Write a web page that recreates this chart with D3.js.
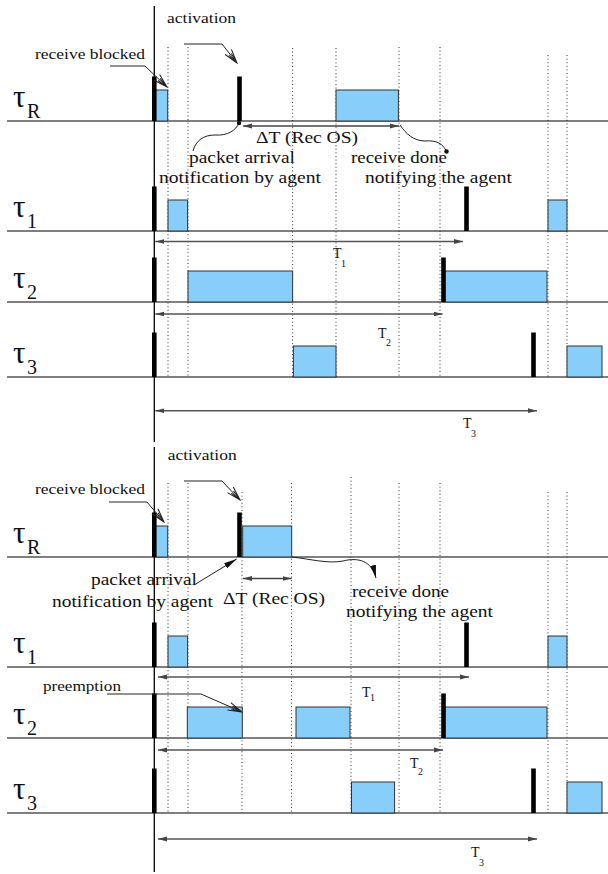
<!DOCTYPE html>
<html><head><meta charset="utf-8">
<script src="https://cdn.jsdelivr.net/npm/d3@7/dist/d3.min.js"></script>
<style>body{margin:0;background:#fff}svg{display:block}</style>
</head><body>
<script>
// ---------------- DATA (time units) ----------------
const tasks = ["R", "1", "2", "3"];
const periodNames = ["1", "2", "3"];

// Scenario A (top)
const topReleases = [[0, 8.52], [0, 31.22], [0, 28.92], [0, 37.92]];
const topJobs = [
  [[0, 1.34], [18.17, 24.41]],
  [[1.37, 3.33], [39.37, 41.27]],
  [[3.37, 13.83], [28.92, 39.27]],
  [[13.91, 18.17], [41.27, 44.77]]
];
const topGrid = [1.37, 3.37, 13.83, 18.17, 24.47, 28.57, 39.37, 41.27];
const topPeriods = [[0, 30.87], [0, 28.83], [0, 38.27]];
const topDelta = [8.87, 24.47];

// Scenario B (bottom, with preemption)
const botReleases = [[0, 8.52], [0, 31.22], [0, 28.92], [0, 37.92]];
const botJobs = [
  [[0, 1.34], [8.84, 13.74]],
  [[1.37, 3.33], [39.37, 41.27]],
  [[3.3, 8.8], [14.17, 19.57], [28.92, 39.27]],
  [[19.72, 24.03], [41.27, 44.77]]
];
const botGrid = [1.37, 3.37, 8.77, 13.72, 19.67, 24.47, 28.57, 39.37, 41.27];
const botPeriods = [[0.27, 31.47], [0.27, 28.87], [0.27, 38.27]];
const botDelta = [8.87, 13.74];

// ---------------- LAYOUT ----------------
const W = 608, H = 874;
const x = d3.scaleLinear().domain([0, 45]).range([154.3, 604.3]);
const BLUE = "#87cefa";
const svg = d3.select("body").append("svg").attr("width", W).attr("height", H)
  .attr("font-family", "'Liberation Serif', 'DejaVu Serif', serif");

const defs = svg.append("defs");
defs.append("marker").attr("id", "open").attr("markerUnits", "userSpaceOnUse")
  .attr("markerWidth", 16).attr("markerHeight", 10).attr("refX", 15).attr("refY", 5)
  .attr("orient", "auto").attr("viewBox", "0 0 16 10")
  .append("path").attr("d", "M1,1 L15,5 L1,9 M4,3.5 L15,5 L4,6.5").attr("fill", "none")
  .attr("stroke", "#222").attr("stroke-width", 1);
defs.append("marker").attr("id", "filled").attr("markerUnits", "userSpaceOnUse")
  .attr("markerWidth", 14).attr("markerHeight", 8).attr("refX", 13).attr("refY", 4)
  .attr("orient", "auto").attr("viewBox", "0 0 14 8")
  .append("path").attr("d", "M0,1 L13,4 L0,7 Z").attr("fill", "#111");
defs.append("marker").attr("id", "thin").attr("markerUnits", "userSpaceOnUse")
  .attr("markerWidth", 10).attr("markerHeight", 6).attr("refX", 9).attr("refY", 3)
  .attr("orient", "auto-start-reverse").attr("viewBox", "0 0 10 6")
  .append("path").attr("d", "M0,0.6 L9,3 L0,5.4 Z").attr("fill", "#444");
defs.append("marker").attr("id", "dot").attr("markerUnits", "userSpaceOnUse")
  .attr("markerWidth", 6).attr("markerHeight", 6).attr("refX", 3).attr("refY", 3)
  .attr("viewBox", "0 0 6 6")
  .append("circle").attr("cx", 3).attr("cy", 3).attr("r", 2.2).attr("fill", "#111");

function txt(g, s, px, py, w, size) {
  g.append("text").attr("x", px).attr("y", py).attr("font-size", size)
    .attr("textLength", w).attr("lengthAdjust", "spacingAndGlyphs")
    .attr("fill", "#111").text(s);
}

function drawSection(cfg) {
  const g = svg.append("g");
  const rows = cfg.rows;
  // grid
  g.selectAll(".grid").data(cfg.grid).join("line")
    .attr("x1", d => x(d)).attr("x2", d => x(d))
    .attr("y1", (d, i) => cfg.gridTop[i]).attr("y2", rows[3])
    .attr("stroke", "#333").attr("stroke-width", 1).attr("stroke-dasharray", "1,2.6");
  // baselines
  g.selectAll(".base").data(rows).join("line")
    .attr("x1", 7).attr("x2", W).attr("y1", d => d).attr("y2", d => d)
    .attr("stroke", cfg.baseColor).attr("stroke-width", cfg.baseWidth);
  // jobs
  cfg.jobs.forEach((jobs, r) => {
    g.selectAll(null).data(jobs).join("rect")
      .attr("x", d => x(d[0])).attr("width", d => x(d[1]) - x(d[0]))
      .attr("y", rows[r] - 31).attr("height", 31)
      .attr("fill", BLUE).attr("stroke", "#333").attr("stroke-width", 1);
  });
  // releases
  cfg.releases.forEach((rel, r) => {
    g.selectAll(null).data(rel).join("rect")
      .attr("x", d => x(d) - 2.3).attr("width", 4.6)
      .attr("y", rows[r] - 44.5).attr("height", 44.5).attr("fill", "#000");
  });
  // task labels
  tasks.forEach((t, r) => {
    const tx = g.append("text").attr("x", 13).attr("y", rows[r] - 14).attr("fill", "#111");
    tx.append("tspan").attr("font-size", 31).text("τ");
    tx.append("tspan").attr("x", 27).attr("y", rows[r] - 3).attr("font-size", 20).text(t);
  });
  // period arrows
  cfg.periods.forEach((p, i) => {
    g.append("line").attr("x1", x(p[0]) + 1).attr("x2", x(p[1]))
      .attr("y1", cfg.periodY[i]).attr("y2", cfg.periodY[i])
      .attr("stroke", "#555").attr("stroke-width", 1.4)
      .attr("marker-start", "url(#thin)").attr("marker-end", "url(#thin)");
    const L = cfg.periodLab[i];
    g.append("text").attr("x", L[0]).attr("y", L[1]).attr("font-size", 14).attr("fill", "#111").text("T");
    g.append("text").attr("x", L[0] + 8).attr("y", L[1] + L[2]).attr("font-size", 10).attr("fill", "#111").text(periodNames[i]);
  });
  // delta arrow
  g.append("line").attr("x1", x(cfg.delta[0])).attr("x2", x(cfg.delta[1]))
    .attr("y1", cfg.deltaY).attr("y2", cfg.deltaY)
    .attr("stroke", "#444").attr("stroke-width", 1.3)
    .attr("marker-start", "url(#thin)").attr("marker-end", "url(#thin)");
  // vertical time origin line
  g.append("line").attr("x1", x(0)).attr("x2", x(0)).attr("y1", cfg.vline[0]).attr("y2", cfg.vline[1])
    .attr("stroke", "#000").attr("stroke-width", 1.3);
  // annotations
  cfg.texts.forEach(t => txt(g, t[0], t[1], t[2], t[3], t[4]));
  cfg.leaders.forEach(l => {
    g.append("path").attr("d", l[0]).attr("fill", "none").attr("stroke", "#222").attr("stroke-width", 1)
      .attr("marker-end", l[1]);
  });
}

drawSection({
  rows: [121, 231, 302, 377],
  grid: topGrid, gridTop: [47, 47, 48, 48, 47, 47, 55, 55],
  baseColor: "#000", baseWidth: 1.2,
  jobs: topJobs, releases: topReleases,
  periods: topPeriods, periodY: [241.5, 314, 410.7],
  periodLab: [[333, 257.7, 9.5], [378, 338, 7.7], [463, 428, 9]],
  delta: topDelta, deltaY: 126,
  vline: [6, 442],
  texts: [
    ["activation", 167, 23, 69, 15],
    ["receive blocked", 35, 59, 110, 15],
    ["ΔT (Rec OS)", 256, 143, 102, 17],
    ["packet arrival", 189, 163, 106, 17],
    ["notification by agent", 159, 182.5, 162, 17],
    ["receive done", 351, 163, 96, 17],
    ["notifying the agent", 365, 182.5, 147, 17]
  ],
  leaders: [
    ["M110,66 H145 L167,87", "url(#open)"],
    ["M184,44 H222 L237,63", "url(#open)"],
    ["M193,151 C196,140 204,135 215,135 C228,136 236,130 239,123", "url(#dot)"],
    ["M400,125 C406,134 414,141 425,141 C437,140 443,144 446.5,151.5", "url(#dot)"]
  ]
});

drawSection({
  rows: [557, 667, 738, 813],
  grid: botGrid, gridTop: [483, 483, 492, 483, 477, 483, 483, 492, 492],
  baseColor: "#555", baseWidth: 1.6,
  jobs: botJobs, releases: botReleases,
  periods: botPeriods, periodY: [677, 750, 839],
  periodLab: [[362, 697, 4], [410, 768, 7], [471, 856.7, 9]],
  delta: botDelta, deltaY: 578.5,
  vline: [447, 872],
  texts: [
    ["activation", 167.7, 459.5, 69, 15],
    ["receive blocked", 35, 494, 110, 15],
    ["packet arrival", 91, 585, 106, 17],
    ["notification by agent", 52, 607, 161, 17],
    ["ΔT (Rec OS)", 223, 604, 102, 17],
    ["receive done", 352, 597, 97, 17],
    ["notifying the agent", 346, 617, 147, 17],
    ["preemption", 43, 691, 78, 15]
  ],
  leaders: [
    ["M109,502 H147 L164,522", "url(#open)"],
    ["M184,481 H222 L240,500", "url(#open)"],
    ["M194,585 L236.7,559", "url(#filled)"],
    ["M292,557 C310,559 328,564 343,561 C358,557 372,561 376,578", "url(#filled)"],
    ["M107,694 H201 L242,712", "url(#open)"]
  ]
});
</script>
</body></html>
